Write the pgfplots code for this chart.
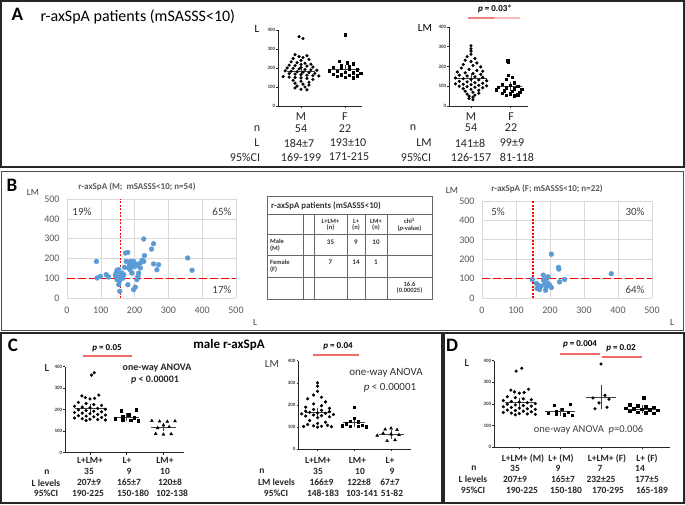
\documentclass[border=0pt]{standalone}
\usepackage{pgfplots}
\pgfplotsset{compat=1.18}
\usepackage{fontspec}
\setmainfont{Carlito}
\newcommand\fs[1]{\fontsize{#1}{#1}\selectfont}
\definecolor{ptblue}{HTML}{5B9BD5}
\definecolor{sigred}{HTML}{F26B6B}
\definecolor{gridg}{HTML}{D9D9D9}
\definecolor{txtg}{HTML}{595959}
\definecolor{frame}{HTML}{262626}

\pgfplotsset{
  dotax/.style={scale only axis, clip=false, axis lines=left,
    axis line style={-, line width=0.6pt, black!85},
    ymin=0, ymax=400, ytick={0,100,200,300,400},
    tick align=outside, major tick length=1.8pt,
    tick style={line width=0.5pt, black!85},
    xticklabels={},
    yticklabel style={font=\fs{5}\bfseries, text=black!75, inner sep=0.8pt},
    /pgf/number format/assume math mode=true},
  dot/.style={only marks, mark=*, mark size=1.4pt, black},
  sq/.style={only marks, mark=square*, mark size=1.2pt, black},
  tri/.style={only marks, mark=triangle*, mark size=1.7pt, black},
  meanl/.style={black!75, line width=0.6pt, mark=none},
  sem/.style={draw=none, mark=none, error bars/.cd, y dir=both, y explicit,
    error bar style={black!75, line width=0.6pt},
    error mark options={black!75, line width=0.6pt, mark size=#1}},
  sem/.default=2.5pt,
  sig/.style={sigred, line width=1.4pt, mark=none},
  scat/.style={scale only axis, clip=false, xmin=0, xmax=500, ymin=0, ymax=500,
    xtick={0,100,...,500}, ytick={0,100,...,500}, grid=major,
    grid style={gridg, line width=0.6pt}, axis line style={draw=none},
    major tick length=0pt, tick label style={font=\fs{10}, text=txtg},
    xticklabel style={yshift=-5pt}, yticklabel style={xshift=-4pt},
    /pgf/number format/assume math mode=true},
  bdot/.style={only marks, mark=*, mark size=2.4pt, mark options={draw=ptblue, fill=ptblue}},
  qv/.style={red, line width=1.1pt, dash pattern=on 2pt off 1.5pt, mark=none},
  qh/.style={red, line width=1.1pt, dash pattern=on 8pt off 3pt, mark=none},
}

\begin{document}
\begin{tikzpicture}[x=1pt, y=1pt]
\path[use as bounding box, fill=white] (0,0) rectangle (685,504);

% ---------------- panel A ----------------
\begin{axis}[dotax, at={(278pt,398pt)}, anchor=south west, width=84pt, height=76pt,
  xmin=0.477, xmax=2.386, xtick={1,2}]
\addplot[dot] table[row sep=\\, x expr=1+0.09*\thisrow{k}, y=v] {k v\\
-0.5 365\\ 0.5 355\\ -1.5 270\\ 1.5 265\\ -0.5 260\\ 0.5 255\\ -2 250\\ 2 245\\ 0 240\\
-2.5 232\\ -1 228\\ 1 225\\ 2.5 220\\ 0 218\\ -3 215\\ -1.5 212\\ 1.5 210\\ 3 205\\ 0 202\\
-3.5 200\\ -2 198\\ -0.5 195\\ 1 192\\ 2.5 190\\ 4 188\\ -4 185\\ -2.5 183\\ -1 180\\ 0.5 178\\
2 175\\ 3.5 172\\ -3 170\\ -1.5 168\\ 0 165\\ 1.5 162\\ 3 160\\ 4.5 158\\ -4.5 155\\ -3 152\\
-1.5 150\\ 0 148\\ 1.5 145\\ 3 140\\ -2 135\\ 0 130\\ 2 125\\ -1.5 120\\ 0.5 115\\ 2 110\\
-1 105\\ 1 100\\ -1.5 95\\ 0 88\\ 1.5 85\\};
\addplot[sq] table[row sep=\\, x expr=2+0.09*\thisrow{k}, y=v] {k v\\
0 375\\ -1.5 235\\ 0.5 228\\ 2 222\\ -1 215\\ 1 210\\ -3 205\\ -1 200\\ 1 195\\ 3 190\\
-4 186\\ -2 182\\ 0 178\\ 2 175\\ 4 172\\ -3 168\\ -1 165\\ 1 162\\ 3 160\\ -2 156\\ 0 152\\ 2 148\\};
\addplot[meanl] coordinates {(0.68,184) (1.32,184)};
\addplot[meanl] coordinates {(1.66,193) (2.34,193)};
\addplot[sem] coordinates {(1,184) +- (0,7) (2,193) +- (0,10)};
\end{axis}

\begin{axis}[dotax, at={(449pt,398pt)}, anchor=south west, width=79pt, height=79pt,
  xmin=0.436, xmax=2.46, xtick={1,2}]
\addplot[dot] table[row sep=\\, x expr=1+0.1*\thisrow{k}, y=v] {k v\\
0 305\\ 0 290\\ 0 278\\ 0 262\\ -1 250\\ 1 240\\ -1.5 232\\ 0 225\\ 1.5 218\\ -2 210\\
0.5 205\\ 2.5 198\\ -2.5 192\\ -0.5 186\\ 1.5 180\\ 3 176\\ -3.5 172\\ -1.5 168\\ 0.5 164\\
2.5 160\\ -3 156\\ -1 152\\ 1 148\\ 3 145\\ -4 142\\ -2 138\\ 0 135\\ 2 132\\ 4 128\\ -3 125\\
-1 122\\ 1 118\\ 3 115\\ -4 112\\ -2 110\\ 0 108\\ 2 105\\ 4 102\\ -3 100\\ -1 98\\ 1 95\\
3 92\\ -2 88\\ 0 85\\ 2 80\\ -1.5 75\\ 0.5 70\\ 2 65\\ -1 60\\ 1 55\\ -0.5 50\\ 0.5 45\\
-0.5 38\\ 0.5 32\\};
\addplot[sq] table[row sep=\\, x expr=2+0.1*\thisrow{k}, y=v] {k v\\
-0.6 230\\ -0.4 222\\ -0.5 155\\ 0.5 145\\ -1 135\\ 1 118\\ -2 110\\ 0 105\\ 2 100\\
-3 96\\ -1 92\\ 1 88\\ 3 85\\ -3.5 82\\ -1.5 78\\ 0.5 74\\ 2.5 70\\ -2 65\\ 0 62\\ 2 58\\
-1 55\\ 1 52\\};
\addplot[meanl] coordinates {(0.56,141) (1.4,141)};
\addplot[meanl] coordinates {(1.69,99) (2.31,99)};
\addplot[sem] coordinates {(1,141) +- (0,8) (2,99) +- (0,9)};
\addplot[sig, color={rgb,255:red,240;green,128;blue,128}] coordinates {(0.92,445) (1.6,445)};
\addplot[sig, color={rgb,255:red,247;green,187;blue,187}] coordinates {(1.6,445) (2.26,445)};
\end{axis}

\node[font=\fs{19}\bfseries, anchor=base west] at (8,483.3) {A};
\node[font=\fs{16}, anchor=base west] at (37,482) {r-axSpA patients (mSASSS<10)};
\node[font=\fs{11}] at (257,475) {L};
\node[font=\fs{11}] at (425,476) {LM};
\node[font=\fs{9}\bfseries] at (495,495) {\itshape p\upshape{} = 0.03*};
\begin{scope}[every node/.style={font=\fs{12}, text=black!85}]
\node at (301,387) {M}; \node at (345,387) {F};
\node at (471,387) {M}; \node at (511,387) {F};
\node at (257,375) {n}; \node at (301,375) {54}; \node at (345,375) {22};
\node at (413,376) {n}; \node at (471,376) {54}; \node at (511,376) {22};
\node at (257,361) {L}; \node at (299,361) {184±7}; \node at (348,361) {193±10};
\node at (424,361) {LM}; \node at (470,361) {141±8}; \node at (512,361) {99±9};
\node at (245,347) {95\%CI}; \node at (301,347) {169-199}; \node at (349,347) {171-215};
\node at (416,347) {95\%CI}; \node at (471,347) {126-157}; \node at (517,347) {81-118};
\end{scope}

% ---------------- panel B ----------------
\begin{axis}[scat, at={(67pt,206pt)}, anchor=south west, width=169pt, height=99pt]
\addplot[bdot] table[row sep=\\] {x y\\
87 185\\ 89 101\\ 99 109\\ 116 118\\ 123 106\\ 143 113\\ 148 93\\ 150 135\\ 153 67\\ 156 34\\
153 143\\ 158 109\\ 163 126\\ 168 118\\ 173 227\\ 180 230\\ 175 185\\ 170 155\\ 180 67\\ 187 143\\
192 168\\ 197 185\\ 202 160\\ 192 126\\ 197 42\\ 202 55\\ 207 93\\ 212 126\\ 217 152\\ 217 177\\
227 185\\ 229 214\\ 227 298\\ 250 247\\ 256 274\\ 256 172\\ 266 143\\ 271 168\\ 357 202\\ 370 140\\
182 151\\ 207 168\\ 187 185\\ 145 125\\ 150 100\\ 155 85\\ 160 115\\ 148 140\\ 165 100\\ 200 175\\
210 110\\ 222 190\\ 185 170\\ 195 160\\};
\addplot[qv] coordinates {(157,0) (157,500)};
\addplot[qh] coordinates {(0,100) (500,100)};
\end{axis}

\begin{axis}[scat, at={(482pt,206pt)}, anchor=south west, width=170pt, height=97pt]
\addplot[bdot] table[row sep=\\] {x y\\
148 95\\ 160 75\\ 162 49\\ 165 66\\ 180 118\\ 185 75\\ 189 57\\ 191 101\\ 194 75\\ 199 66\\
204 226\\ 204 54\\ 225 158\\ 226 149\\ 228 83\\ 243 95\\ 380 125\\ 181 92\\ 169 43\\ 187 40\\
194 109\\ 174 61\\};
\addplot[qv] coordinates {(150,0) (150,500)};
\addplot[qh] coordinates {(0,100) (500,100)};
\end{axis}

\node[font=\fs{19}\bfseries] at (12,319) {B};
\begin{scope}[every node/.style={text=black!75}]
\node[font=\fs{9.5}] at (33,312) {LM};
\node[font=\fs{9.5}] at (452,314) {LM};
\node[font=\fs{9.5}] at (255,182) {L};
\node[font=\fs{9.5}] at (672,182) {L};
\node[font=\fs{9}\bfseries, text=txtg] at (137,317) {r-axSpA (M;\ \ mSASSS<10; n=54)};
\node[font=\fs{9}\bfseries, text=txtg] at (547,315) {r-axSpA (F; mSASSS<10; n=22)};
\node[font=\fs{11}] at (82,292) {19\%};
\node[font=\fs{11}] at (222,292) {65\%};
\node[font=\fs{11}] at (222,214) {17\%};
\node[font=\fs{11}] at (498,292) {5\%};
\node[font=\fs{11}] at (635,292) {30\%};
\node[font=\fs{11}] at (635,214) {64\%};
\end{scope}

% table
\begin{scope}[draw=black!60, line width=1pt]
\draw (267,307) rectangle (432,205);
\foreach \yy in {289,269,249,227} \draw (267,\yy) -- (432,\yy);
\foreach \xx in {303,314,347,365,387} \draw (\xx,289) -- (\xx,205);
\end{scope}
\begin{scope}[every node/.style={font=\fs{6.5}\bfseries, text=black!80, align=center, inner sep=0pt}]
\node[font=\fs{8.8}\bfseries, anchor=west] at (271,298) {r-axSpA patients (mSASSS<10)};
\node at (330.5,279) {L+LM+\\(n)};
\node at (356,279) {L+\\(n)};
\node at (376,279) {LM+\\(n)};
\node at (409.5,279) {chi\textsuperscript{2}\\(\textit{p}-value)};
\node[anchor=west, align=left] at (270,259) {Male\\(M)};
\node[anchor=west, align=left] at (270,238) {Female\\(F)};
\node[font=\fs{7}\bfseries] at (330.5,262) {35};
\node[font=\fs{7}\bfseries] at (356,262) {9};
\node[font=\fs{7}\bfseries] at (376,262) {10};
\node[font=\fs{7}\bfseries] at (330.5,241.5) {7};
\node[font=\fs{7}\bfseries] at (356,241.5) {14};
\node[font=\fs{7}\bfseries] at (376,241.5) {1};
\node at (409.5,216) {16.6\\(0.00025)};
\end{scope}

% ---------------- panel C ----------------
\begin{axis}[dotax, at={(65pt,51.3pt)}, anchor=south west, width=119pt, height=86pt,
  xmin=0.32, xmax=3.56, xtick={1,2,3}]
\addplot[dot] table[row sep=\\, x expr=1+0.105*\thisrow{k}, y=v] {k v\\
1.1 372\\ 0.4 361\\ 2.3 268\\ -2.1 264\\ -1.2 256\\ 1.2 253\\ 0 250\\ -3 234\\ -1 229\\ 1 224\\
3 220\\ -4 216\\ -2 212\\ 0 209\\ 2 206\\ 4 202\\ -3 199\\ -1 196\\ 1 193\\ 3 190\\ -4 187\\
-2 184\\ 0 181\\ 2 178\\ 4 175\\ -3 172\\ -1 170\\ 1 167\\ 3 164\\ -4 161\\ -2 158\\ 0 156\\
2 154\\ 4 152\\ -1 150\\};
\addplot[sq] table[row sep=\\, x expr=2+0.105*\thisrow{k}, y=v] {k v\\
2.5 200\\ -1.5 195\\ 0.5 176\\ -1 168\\ 2 162\\ -3 158\\ -1 154\\ 1 150\\ 3 148\\};
\addplot[tri] table[row sep=\\, x expr=3+0.105*\thisrow{k}, y=v] {k v\\
-3 148\\ -1 146\\ 1 145\\ 3 147\\ 0 128\\ 1.5 120\\ -1.5 115\\ -2 88\\ 0 85\\ 2 87\\};
\addplot[meanl] coordinates {(0.59,207) (1.41,207)};
\addplot[meanl] coordinates {(1.66,165) (2.34,165)};
\addplot[meanl] coordinates {(2.66,120) (3.34,120)};
\addplot[sem] coordinates {(1,207) +- (0,9) (2,165) +- (0,7) (3,120) +- (0,8)};
\addplot[sig] coordinates {(0.81,450) (2.14,450)};
\end{axis}

\begin{axis}[dotax, at={(298.3pt,54.7pt)}, anchor=south west, width=113pt, height=88.6pt,
  xmin=0.476, xmax=3.55, xtick={1,2,3}]
\addplot[dot] table[row sep=\\, x expr=1+0.108*\thisrow{k}, y=v] {k v\\
0 300\\ 0 285\\ 0 262\\ -1 245\\ 1 235\\ -2.5 228\\ 2 214\\ -1 205\\ 1 197\\ -3 190\\ 3 185\\
-1 180\\ 1 176\\ -3 172\\ 3 170\\ -2 167\\ 0 164\\ 2 162\\ -4 160\\ 4 157\\ -1 155\\ 1 152\\
-3 150\\ 3 147\\ 0 143\\ -2 130\\ 2 122\\ 0 117\\ -2.5 112\\ 2.5 108\\ -1 106\\ 1 104\\
-3.5 103\\ 3.5 102\\ 0 100\\};
\addplot[sq] table[row sep=\\, x expr=2+0.108*\thisrow{k}, y=v] {k v\\
0 190\\ 0 140\\ -1 128\\ 1 125\\ -2 115\\ 2 110\\ -3 106\\ -1 105\\ 1 104\\ 3 102\\};
\addplot[tri] table[row sep=\\, x expr=3+0.108*\thisrow{k}, y=v] {k v\\
0 95\\ -1.5 90\\ 1.5 88\\ -2 72\\ 0 68\\ 2 65\\ -3.5 62\\ 1 42\\ -1 38\\};
\addplot[meanl] coordinates {(0.67,166) (1.33,166)};
\addplot[meanl] coordinates {(1.7,122) (2.3,122)};
\addplot[meanl] coordinates {(2.66,67) (3.34,67)};
\addplot[sem] coordinates {(1,166) +- (0,9) (2,122) +- (0,8) (3,67) +- (0,7)};
\addplot[sig] coordinates {(0.87,426) (2.14,426)};
\end{axis}

\node[font=\fs{19}\bfseries] at (13,159) {C};
\node[font=\fs{13}\bfseries] at (229,159) {male r-axSpA};
\node[font=\fs{9}\bfseries] at (107,156) {\itshape p\upshape{} = 0.05};
\node[font=\fs{9}\bfseries] at (338,158) {\itshape p\upshape{} = 0.04};
\node[font=\fs{11}] at (47,136) {L};
\node[font=\fs{11}, text=black!75] at (272,140) {LM};
\node[font=\fs{10}\bfseries, text=black!85] at (157,136) {one-way ANOVA};
\node[font=\fs{10}\bfseries, text=black!85] at (155,123.5) {\itshape p\upshape{} < 0.00001};
\node[font=\fs{11}, text=black!80] at (386,131) {one-way ANOVA};
\node[font=\fs{11}, text=black!80] at (390,116) {\itshape p\upshape{} < 0.00001};
\begin{scope}[every node/.style={font=\fs{9.5}\bfseries, text=black!85}]
\node at (90,44) {L+LM+}; \node at (127,44) {L+}; \node at (165,44) {LM+};
\node at (47,32.3) {n}; \node at (89,32.3) {35}; \node at (129,32.3) {9}; \node at (165,32.3) {10};
\node at (46,21.3) {L levels}; \node at (89,21.3) {207±9}; \node at (129,21.3) {165±7}; \node at (170,21.3) {120±8};
\node at (46,10.7) {95\%CI}; \node at (88,10.7) {190-225}; \node at (133,10.7) {150-180}; \node at (172,10.7) {102-138};
\node at (318,44) {L+LM+}; \node at (357.5,44) {LM+}; \node at (390,44) {L+};
\node at (262,33) {n}; \node at (318,33) {35}; \node at (360,33) {10}; \node at (392,33) {9};
\node at (276.5,21.7) {LM levels}; \node at (321.5,21.7) {166±9}; \node at (359,21.7) {122±8}; \node at (390,21.7) {67±7};
\node at (276,10.7) {95\%CI}; \node at (323,10.7) {148-183}; \node at (362,10.7) {103-141}; \node at (392,10.7) {51-82};
\end{scope}

% ---------------- panel D ----------------
\begin{axis}[dotax, at={(494pt,56.7pt)}, anchor=south west, width=176pt, height=86.6pt,
  xmin=0.38, xmax=4.69, xtick={1,2,3,4}]
\addplot[dot] table[row sep=\\, x expr=1+0.098*\thisrow{k}, y=v] {k v\\
0.6 365\\ -0.8 352\\ 2.3 268\\ -2.1 264\\ -1.2 256\\ 1.2 253\\ 0 250\\ -3 234\\ -1 229\\ 1 224\\
3 220\\ -4 216\\ -2 212\\ 0 209\\ 2 206\\ 4 202\\ -3 199\\ -1 196\\ 1 193\\ 3 190\\ -4 187\\
-2 184\\ 0 181\\ 2 178\\ 4 175\\ -3 172\\ -1 170\\ 1 167\\ 3 164\\ -4 161\\ -2 158\\ 0 156\\
2 154\\ 4 152\\ -1 150\\};
\addplot[sq] table[row sep=\\, x expr=2+0.098*\thisrow{k}, y=v] {k v\\
2.5 200\\ -1.5 195\\ 0.5 176\\ -1 168\\ 2 162\\ -3 158\\ -1 154\\ 1 150\\ 3 148\\};
\addplot[dot] table[row sep=\\, x expr=3+0.098*\thisrow{k}, y=v] {k v\\
0 385\\ 1 240\\ -2 228\\ 2 222\\ -0.5 205\\ 1.5 185\\ -1.5 178\\};
\addplot[sq] table[row sep=\\, x expr=4+0.098*\thisrow{k}, y=v] {k v\\
0.5 230\\ -3 196\\ -1 192\\ 1 188\\ 3 184\\ -4 180\\ -2 178\\ 0 176\\ 2 174\\ 4 170\\
-3 166\\ -1 163\\ 1 160\\ 3 158\\};
\addplot[meanl] coordinates {(0.64,207) (1.36,207)};
\addplot[meanl] coordinates {(1.64,165) (2.36,165)};
\addplot[meanl] coordinates {(2.63,232) (3.37,232)};
\addplot[meanl] coordinates {(3.58,177) (4.42,177)};
\addplot[sem] coordinates {(1,207) +- (0,9) (2,165) +- (0,7) (4,177) +- (0,5)};
\addplot[sem=7pt] coordinates {(3,232) +- (0,25)};
\addplot[sig] coordinates {(2.0,431) (2.98,431)};
\addplot[sig] coordinates {(3.02,417) (4.0,417)};
\end{axis}

\node[font=\fs{19}\bfseries] at (452,159) {D};
\node[font=\fs{11}] at (467,141) {L};
\node[font=\fs{9}\bfseries] at (580,160) {\itshape p\upshape{} = 0.004};
\node[font=\fs{9}\bfseries] at (621,156) {\itshape p\upshape{} = 0.02};
\node[font=\fs{10.5}, text=black!75] at (588.5,74) {one-way ANOVA\ \ \itshape p\upshape{}=0.006};
\begin{scope}[every node/.style={font=\fs{9.5}\bfseries, text=black!85}]
\node at (523,45.7) {L+LM+ (M)}; \node at (561,45.7) {L+ (M)}; \node at (607,45.7) {L+LM+ (F)}; \node at (647,45.7) {L+ (F)};
\node at (474,35.7) {n}; \node at (515,35.7) {35}; \node at (558,35.7) {9}; \node at (600,35.7) {7}; \node at (640,35.7) {14};
\node at (473,24.7) {L levels}; \node at (515,24.7) {207±9}; \node at (563,24.7) {165±7}; \node at (601,24.7) {232±25}; \node at (647,24.7) {177±5};
\node at (473,14) {95\%CI}; \node at (522,14) {190-225}; \node at (566,14) {150-180}; \node at (608,14) {170-295}; \node at (652,14) {165-189};
\end{scope}

% panel frames
\draw[frame, line width=2pt] (1,503) rectangle (684,336.5);
\draw[black!70, line width=1.5pt] (1.5,332.5) rectangle (683.5,173.5);
\draw[frame, line width=2pt] (1,171) rectangle (441.5,1);
\draw[frame, line width=2pt] (444,171) rectangle (684,1);
\end{tikzpicture}
\end{document}
